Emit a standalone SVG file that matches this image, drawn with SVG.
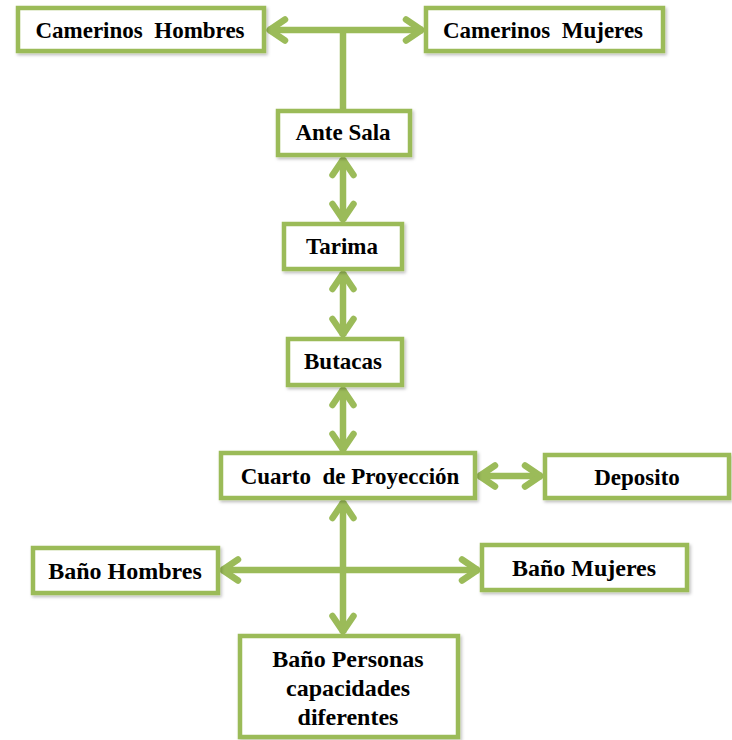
<svg xmlns="http://www.w3.org/2000/svg" width="732" height="740" viewBox="0 0 732 740">
<style>
.box{fill:#ffffff;stroke:#9BBB59;stroke-width:4.5;filter:url(#sh)}
.lbl{font-family:"Liberation Serif","Times New Roman",serif;font-weight:bold;font-size:23px;fill:#000000;text-anchor:middle;white-space:pre}
.big{font-size:24px}
.con{fill:none;stroke:#9BBB59;stroke-width:6.5}
.arr{marker-start:url(#ah);marker-end:url(#ah)}
</style>
<defs>
<filter id="sh" x="-10%" y="-20%" width="120%" height="150%">
<feDropShadow dx="1.5" dy="2" stdDeviation="1.5" flood-color="#000" flood-opacity="0.25"/>
</filter>
<marker id="ah" markerUnits="userSpaceOnUse" viewBox="-22 -15 24 30" refX="0" refY="0" markerWidth="24" markerHeight="30" orient="auto-start-reverse">
<path d="M -17 -10.5 L -1.5 0 L -17 10.5" fill="none" stroke="#9BBB59" stroke-width="6.5" stroke-linecap="round" stroke-linejoin="round"/>
</marker>
</defs>
<g id="connectors">
<path class="con" d="M 343 110 L 343 30"/>
<path class="con arr" d="M 268 30 L 423 30"/>
<path class="con arr" d="M 343 158 L 343 221"/>
<path class="con arr" d="M 343 272 L 343 336"/>
<path class="con arr" d="M 343 388 L 343 451"/>
<path class="con arr" d="M 478 476 L 542 476"/>
<path class="con arr" d="M 343 501 L 343 633"/>
<path class="con arr" d="M 221 570 L 479 570"/>
</g>
<g id="camerinos-hombres"><rect class="box" x="18" y="8" width="246" height="43"/><text class="lbl" x="140" y="38" xml:space="preserve">Camerinos  Hombres</text></g>
<g id="camerinos-mujeres"><rect class="box" x="426" y="8" width="237" height="43"/><text class="lbl" x="543" y="38" xml:space="preserve">Camerinos  Mujeres</text></g>
<g id="ante-sala"><rect class="box" x="278" y="111" width="132" height="44"/><text class="lbl" x="343" y="140">Ante Sala</text></g>
<g id="tarima"><rect class="box" x="284" y="224" width="118" height="45"/><text class="lbl" x="342" y="254">Tarima</text></g>
<g id="butacas"><rect class="box" x="288" y="339" width="114" height="46"/><text class="lbl" x="343" y="369">Butacas</text></g>
<g id="cuarto-proyeccion"><rect class="box" x="221" y="453" width="254" height="45"/><text class="lbl" x="350" y="484" xml:space="preserve">Cuarto  de Proyección</text></g>
<g id="deposito"><rect class="box" x="545" y="455" width="184" height="43"/><text class="lbl" x="637" y="485">Deposito</text></g>
<g id="bano-hombres"><rect class="box" x="33" y="548" width="185" height="45"/><text class="lbl big" x="125" y="579">Baño Hombres</text></g>
<g id="bano-mujeres"><rect class="box" x="482" y="545" width="205" height="45"/><text class="lbl big" x="584" y="576">Baño Mujeres</text></g>
<g id="bano-personas"><rect class="box" x="240" y="636" width="218" height="101"/><text class="lbl big" x="348" y="667">Baño Personas</text><text class="lbl big" x="348" y="696">capacidades</text><text class="lbl big" x="348" y="725">diferentes</text></g>
</svg>
